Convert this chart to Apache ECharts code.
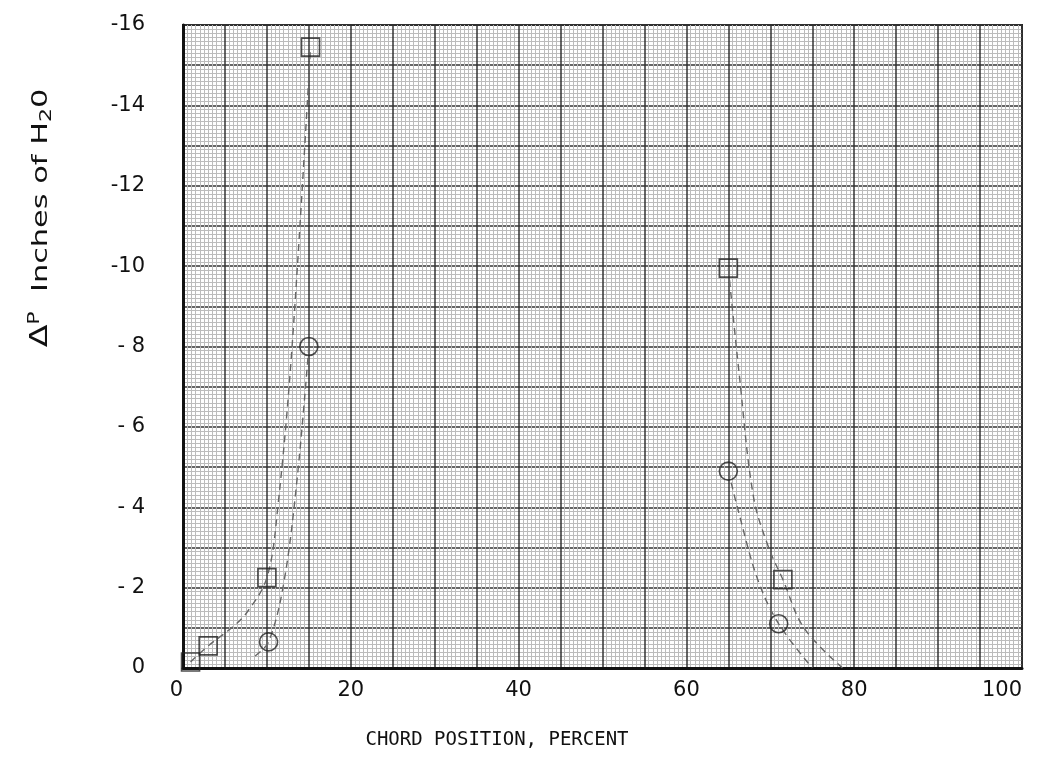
<!DOCTYPE html>
<html>
<head>
<meta charset="utf-8">
<title>Pressure vs chord position</title>
<script src="https://cdn.jsdelivr.net/npm/echarts@6/dist/echarts.min.js"></script>
<style>
  html, body { margin: 0; padding: 0; background: #fff; }
  #chart { width: 1039px; height: 763px; }
</style>
</head>
<body>
<div id="chart"></div>
<script>
// markers: [chord %, delta P]
const squarePoints = [[0.9, -0.15], [3, -0.55], [10, -2.25], [15.2, -15.45], [65, -9.95], [71.5, -2.2]]
const circlePoints = [[10.2, -0.65], [15, -8], [65, -4.9], [71, -1.1]]

// hand faired dashed curves
const squareCurveLeft = [[0.9, -0.15], [3, -0.55], [5.5, -0.95], [7.5, -1.35], [10, -2.25], [11.3, -4], [13, -8], [15.2, -15.45]]
const circleCurveLeft = [[8.6, -0.3], [10.2, -0.65], [12, -2.1], [13.6, -4.7], [15, -8]]
const squareCurveRight = [[65, -9.95], [66.3, -7.3], [68, -4.25], [69.8, -3], [71.5, -2.2], [74, -1], [78.6, 0]]
const circleCurveRight = [[65, -4.9], [66.2, -3.9], [68.5, -2.2], [71, -1.1], [75, 0]]

const xTicks = [0, 20, 40, 60, 80, 100]
const yTicks = [0, -2, -4, -6, -8, -10, -12, -14, -16]

let myChart = echarts.init(document.getElementById("chart"))

const gridLineAxisX = {
  type: "value", min: 0, max: 100, interval: 5, gridIndex: 0,
  axisLine: { show: false }, axisTick: { show: false }, axisLabel: { show: false },
  splitLine: { show: true, lineStyle: { color: "#333", width: 1.5 } },
  minorTick: { show: false, splitNumber: 10 },
  minorSplitLine: { show: true, lineStyle: { color: "#bcbcbc", width: 1 } },
}
const gridLineAxisY = {
  type: "value", min: -16, max: 0, interval: 1, inverse: true, gridIndex: 0,
  axisLine: { show: false }, axisTick: { show: false }, axisLabel: { show: false },
  splitLine: { show: true, lineStyle: { color: "#333", width: 1.5 } },
  minorTick: { show: false, splitNumber: 10 },
  minorSplitLine: { show: true, lineStyle: { color: "#bcbcbc", width: 1 } },
}

const curveStyle = { color: "#666", width: 1.4, type: [7, 5] }
const curve = (data) => ({
  type: "line", data: data, smooth: 0.35, symbol: "none",
  lineStyle: curveStyle, z: 3, silent: true,
})

myChart.setOption({
  backgroundColor: "#fff",
  animation: false,
  grid: { left: 183, right: 17, top: 25, bottom: 95, show: true, borderColor: "#222", borderWidth: 2 },
  xAxis: [
    {
      type: "value", min: 0, max: 100, interval: 20,
      axisLine: { show: true, lineStyle: { color: "#111", width: 3 } },
      axisTick: { show: false },
      splitLine: { show: false },
      axisLabel: {
        margin: 12, color: "#111", fontSize: 21, fontFamily: "DejaVu Sans",
        alignMinLabel: "right", alignMaxLabel: "right",
        formatter: (v) => (xTicks.includes(v) ? String(v) : ""),
      },
    },
    gridLineAxisX,
  ],
  yAxis: [
    {
      type: "value", min: -16, max: 0, interval: 2, inverse: true,
      axisLine: { show: true, lineStyle: { color: "#111", width: 3 } },
      axisTick: { show: false },
      splitLine: { show: false },
      axisLabel: {
        margin: 38, color: "#111", fontSize: 21, fontFamily: "DejaVu Sans",
        formatter: (v) => {
          if (!yTicks.includes(v)) return ""
          if (v === 0) return "0"
          return v > -10 ? "- " + Math.abs(v) : "-" + Math.abs(v)
        },
      },
    },
    gridLineAxisY,
  ],
  series: [
    curve(squareCurveLeft),
    curve(circleCurveLeft),
    curve(squareCurveRight),
    curve(circleCurveRight),
    {
      type: "scatter", data: squarePoints, symbol: "rect", symbolSize: 18, z: 5,
      itemStyle: { color: "rgba(255,255,255,0)", borderColor: "#222", borderWidth: 1.6 },
    },
    {
      type: "scatter", data: circlePoints, symbol: "circle", symbolSize: 18, z: 5,
      itemStyle: { color: "rgba(255,255,255,0)", borderColor: "#222", borderWidth: 1.6 },
    },
  ],
  graphic: [
    {
      type: "text", x: 41, y: 218, rotation: Math.PI / 2, scaleX: 1.38,
      style: {
        text: "{d|Δ}{p|P}  Inches of H{s|2}0",
        fill: "#111", font: "22px DejaVu Sans", align: "center", verticalAlign: "middle",
        rich: {
          d: { fontSize: 24, fontFamily: "DejaVu Sans" },
          p: { fontSize: 16, fontFamily: "DejaVu Sans", padding: [0, 0, 12, 0] },
          s: { fontSize: 16, fontFamily: "DejaVu Sans", padding: [12, 0, 0, 0] },
        },
      },
    },
    {
      type: "text", x: 497, y: 740,
      style: {
        text: "CHORD POSITION, PERCENT",
        fill: "#111", font: "19px DejaVu Sans Mono", align: "center", verticalAlign: "middle",
      },
    },
  ],
})

window.addEventListener("resize", () => {
  myChart.resize()
})
</script>
</body>
</html>
